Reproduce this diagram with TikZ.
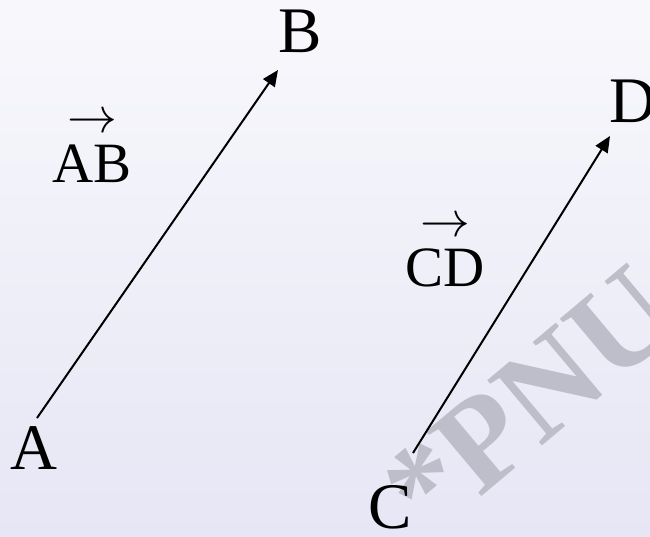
\documentclass[tikz,border=0pt]{standalone}
\usepackage{fontspec}
\setmainfont{Liberation Serif}
\usetikzlibrary{arrows.meta}
\definecolor{bgTop}{RGB}{248,248,252}
\definecolor{bgBot}{RGB}{230,230,245}
\definecolor{wmark}{RGB}{190,190,202}
\newcommand{\ptlabel}{\fontsize{65}{65}\selectfont}
\newcommand{\veclabel}[1]{\shortstack{\scalebox{2}{\fontsize{24.88}{25}\selectfont$\rightarrow$}\\[9pt]#1}}
\tikzset{
  pt/.style={inner sep=0pt,anchor=base,font=\ptlabel},
  vec/.style={inner sep=0pt,anchor=base,font=\fontsize{57}{57}\selectfont},
  vecarrow/.style={line width=2pt,-{Triangle[length=16pt,width=14pt]}}
}
\begin{document}
\begin{tikzpicture}[x=1pt,y=-1pt]
\useasboundingbox (0,0) rectangle (650,536);
\shade[top color=bgTop,bottom color=bgBot] (0,0) rectangle (650,536);
% ---- watermark
\begin{scope}
\clip (0,0) rectangle (650,536);
\node[inner sep=0pt,anchor=base west,rotate=40,text=wmark,
  font=\fontsize{130}{130}\selectfont\bfseries] (wm) at (430,540) {*PNU};
\end{scope}
% ---- AB
\coordinate (a) at (37,418);
\coordinate (b) at (278,70);
\node[pt] (A) at (34,469) {A};
\node[pt] (B) at (300,52) {B};
\draw[vecarrow] (a) -- (b);
\node[vec] (AB) at (92,182) {\veclabel{AB}};
% ---- CD
\coordinate (c) at (413,453);
\coordinate (d) at (610,136);
\node[pt] (C) at (390,528) {C};
\node[pt] (D) at (633,122) {D};
\draw[vecarrow] (c) -- (d);
\node[vec] (CD) at (445,286) {\veclabel{CD}};
\end{tikzpicture}
\end{document}
